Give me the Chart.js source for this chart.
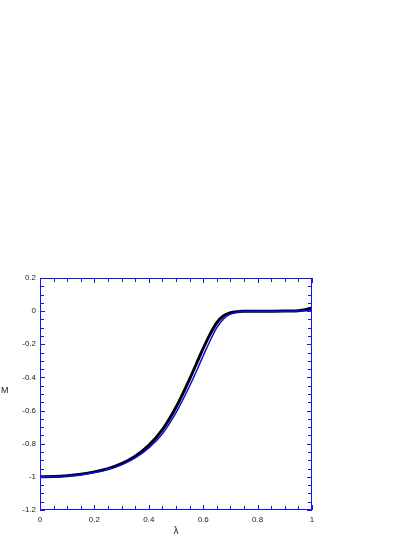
<!DOCTYPE html>
<html><head><meta charset="utf-8">
<script src="https://cdn.jsdelivr.net/npm/chart.js@4/dist/chart.umd.min.js"></script>
<style>html,body{margin:0;padding:0;background:#fff}#c{position:absolute;left:0;top:0}</style>
</head><body>
<canvas id="c" width="415" height="537"></canvas>
<script>
const lambdaValues = [0,0.05,0.1,0.15,0.2,0.25,0.3,0.35,0.4,0.45,0.5,0.55,0.6,0.625,0.65,0.675,0.7,0.725,0.75,0.8,0.85,0.9,0.95,0.975,1.0];
const blackM = [-1.0,-0.998,-0.993,-0.984,-0.97,-0.95,-0.92,-0.875,-0.81,-0.715,-0.58,-0.41,-0.225,-0.14,-0.07,-0.028,-0.01,-0.003,-0.001,0,0,0.001,0.003,0.008,0.02];
const blueM = [-1.0,-0.999,-0.995,-0.987,-0.974,-0.956,-0.928,-0.886,-0.826,-0.74,-0.613,-0.452,-0.27,-0.18,-0.1,-0.047,-0.018,-0.006,-0.002,0,0,0,0.001,0.002,0.004];
const xTicks = [0,0.2,0.4,0.6,0.8,1];
const yTicks = [-1.2,-1,-0.8,-0.6,-0.4,-0.2,0,0.2];
const AX = 'rgb(20,20,255)';
const toPts = (ys) => lambdaValues.map((x,i)=>({x, y: ys[i]}));

const frame = {
  id:'frame',
  afterDraw(chart){
    const {ctx, chartArea:a, scales:{x,y}} = chart;
    ctx.save();
    ctx.strokeStyle = AX; ctx.lineWidth = 1;
    ctx.strokeRect(a.left+0.5, a.top+0.5, a.right-a.left-1, a.bottom-a.top-1);
    ctx.beginPath();
    for (let i=0;i<=20;i++){
      const v=i*0.05, px=Math.round(x.getPixelForValue(v))+0.5;
      const L = (i%4===0)?5:4;
      ctx.moveTo(px,a.bottom); ctx.lineTo(px,a.bottom-L);
      ctx.moveTo(px,a.top); ctx.lineTo(px,a.top+L);
    }
    for (let i=0;i<=28;i++){
      const v=-1.2+i*0.05, py=Math.round(y.getPixelForValue(v))+0.5;
      const L = (i%4===0)?5:4;
      ctx.moveTo(a.left,py); ctx.lineTo(a.left+L,py);
      ctx.moveTo(a.right,py); ctx.lineTo(a.right-L,py);
    }
    ctx.stroke();
    ctx.fillStyle='#222'; ctx.font='9px "Liberation Sans", Arial, sans-serif';
    ctx.textAlign='left'; ctx.textBaseline='middle';
    ctx.fillText('M', 1, 391);
    ctx.restore();
  }
};

new Chart(document.getElementById('c'), {
  type:'line',
  data:{datasets:[
    {label:'blue', data: toPts(blueM), borderColor:'rgb(10,10,240)', borderWidth:1.5, pointRadius:0, cubicInterpolationMode:'monotone', fill:false},
    {label:'black', data: toPts(blackM), borderColor:'#000', borderWidth:3, pointRadius:0, cubicInterpolationMode:'monotone', fill:false}
  ]},
  options:{
    responsive:false, animation:false, devicePixelRatio:1,
    layout:{padding:{left:0, top:278, right:103, bottom:0}},
    plugins:{legend:{display:false}, tooltip:{enabled:false}},
    scales:{
      x:{type:'linear', min:0, max:1,
        afterFit(s){ s.height = 27; },
        afterBuildTicks(s){ s.ticks = xTicks.map(v=>({value:v})); },
        grid:{display:false, drawTicks:false}, border:{display:false},
        ticks:{padding:5, color:'#222', font:{size:8, family:'"Liberation Sans", Arial, sans-serif'}, maxRotation:0, callback:v=>String(Math.round(v*10)/10)},
        title:{display:true, text:'λ', color:'#222', padding:{top:0,bottom:0}, font:{size:10, family:'"Liberation Sans", Arial, sans-serif'}}
      },
      y:{type:'linear', min:-1.2, max:0.2,
        afterFit(s){ s.width = 40; },
        afterBuildTicks(s){ s.ticks = yTicks.map(v=>({value:v})); },
        grid:{display:false, drawTicks:false}, border:{display:false},
        ticks:{padding:4, color:'#222', font:{size:8, family:'"Liberation Sans", Arial, sans-serif'}, callback:v=>String(Math.round(v*10)/10)}
      }
    }
  },
  plugins:[frame]
});
</script>
</body></html>
